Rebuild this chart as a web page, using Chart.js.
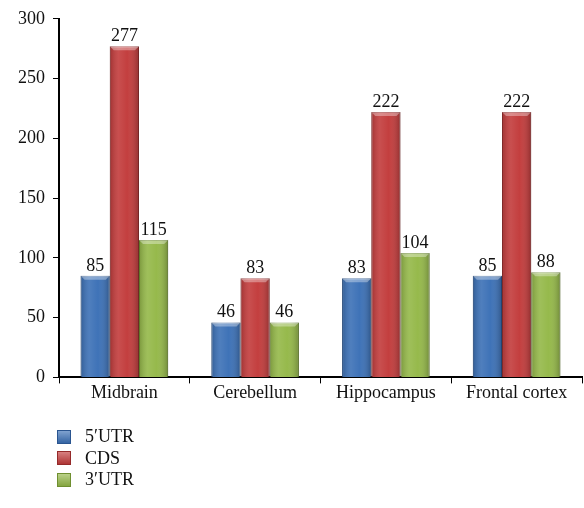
<!DOCTYPE html>
<html>
<head>
<meta charset="utf-8">
<script src="https://cdn.jsdelivr.net/npm/chart.js@4.4.1/dist/chart.umd.min.js"></script>
<style>
  html, body { margin: 0; padding: 0; background: #fff; }
  #wrap { position: relative; width: 584px; height: 508px; }
  #legend { position: absolute; left: 57px; top: 426px; font-family: "Liberation Serif", "DejaVu Serif", serif; font-size: 18px; color: #111; }
  #legend .row { display: flex; align-items: center; height: 21.5px; }
  #legend .sw { width: 14px; height: 14px; margin-right: 14px; box-sizing: border-box; }
</style>
</head>
<body>
<div id="wrap">
  <canvas id="c" width="584" height="508"></canvas>
  <div id="legend"></div>
</div>
<script>
// données
const regions = ["Midbrain", "Cerebellum", "Hippocampus", "Frontal cortex"];
const utr5 = [85, 46, 83, 85];
const cds = [277, 83, 222, 222];
const utr3 = [115, 46, 104, 88];
const yTicks = [0, 50, 100, 150, 200, 250, 300];

const seriesNames = ["5\u2032UTR", "CDS", "3\u2032UTR"];
const seriesColors = ["#3b70b6", "#c23b3b", "#94b848"];
const seriesEdges = ["#2a5590", "#952a2a", "#6f8f30"];

const FONT = "Liberation Serif";

// relief des barres : dégradé horizontal + biseau en haut
const bevelPlugin = {
    id: "bevel",
    afterDatasetsDraw(chart) {
        const ctx = chart.ctx;
        chart.data.datasets.forEach((ds, di) => {
            chart.getDatasetMeta(di).data.forEach(bar => {
                const left = bar.x - bar.width / 2;
                const top = bar.y;
                const h = bar.base - bar.y;
                const g = ctx.createLinearGradient(left, 0, left + bar.width, 0);
                g.addColorStop(0, "rgba(0,0,0,0.18)");
                g.addColorStop(0.3, "rgba(255,255,255,0.10)");
                g.addColorStop(0.6, "rgba(255,255,255,0.02)");
                g.addColorStop(1, "rgba(0,0,0,0.25)");
                ctx.save();
                ctx.fillStyle = g;
                ctx.fillRect(left, top, bar.width, h);
                // biseau
                ctx.fillStyle = "rgba(255,255,255,0.35)";
                ctx.beginPath();
                ctx.moveTo(left, top);
                ctx.lineTo(left + bar.width, top);
                ctx.lineTo(left + bar.width - 4, top + 4);
                ctx.lineTo(left + 4, top + 4);
                ctx.closePath();
                ctx.fill();
                ctx.restore();
            });
        });
    }
};

// valeurs au-dessus des barres
const valueLabels = {
    id: "valueLabels",
    afterDatasetsDraw(chart) {
        const ctx = chart.ctx;
        ctx.save();
        ctx.font = "18px '" + FONT + "'";
        ctx.fillStyle = "#111";
        ctx.textAlign = "center";
        ctx.textBaseline = "bottom";
        chart.data.datasets.forEach((ds, di) => {
            chart.getDatasetMeta(di).data.forEach((bar, i) => {
                ctx.fillText(String(ds.data[i]), bar.x, bar.y - 1);
            });
        });
        ctx.restore();
    }
};

const datasets = [utr5, cds, utr3].map((d, i) => ({
    label: seriesNames[i],
    data: d,
    backgroundColor: seriesColors[i],
    borderColor: seriesEdges[i],
    borderWidth: 1,
    barPercentage: 1.0,
    categoryPercentage: 0.67,
}));

new Chart(document.getElementById("c"), {
    type: "bar",
    data: { labels: regions, datasets: datasets },
    options: {
        responsive: false,
        animation: false,
        devicePixelRatio: 1,
        layout: { padding: { top: 15, right: 2, left: 10, bottom: 105 } },
        plugins: {
            legend: { display: false },
            tooltip: { enabled: false },
        },
        scales: {
            x: {
                grid: { drawOnChartArea: false, drawTicks: true, tickLength: 6, color: "#000", offset: true },
                border: { color: "#000", width: 2 },
                ticks: { color: "#111", font: { family: FONT, size: 18 }, padding: -1, maxRotation: 0 },
            },
            y: {
                min: 0,
                max: 300,
                afterBuildTicks: (axis) => { axis.ticks = yTicks.map(v => ({ value: v })); },
                grid: { drawOnChartArea: false, drawTicks: true, tickLength: 6, color: "#000" },
                border: { color: "#000", width: 2 },
                ticks: { color: "#111", font: { family: FONT, size: 18 }, padding: 8 },
            }
        }
    },
    plugins: [bevelPlugin, valueLabels]
});

// légende verticale en bas à gauche
const legendEl = document.getElementById("legend");
seriesNames.forEach((name, i) => {
    const row = document.createElement("div");
    row.className = "row";
    const sw = document.createElement("span");
    sw.className = "sw";
    sw.style.background = "linear-gradient(to bottom, rgba(255,255,255,0.35), rgba(0,0,0,0.1)), " + seriesColors[i];
    sw.style.border = "1px solid " + seriesEdges[i];
    const txt = document.createElement("span");
    txt.textContent = name;
    row.appendChild(sw);
    row.appendChild(txt);
    legendEl.appendChild(row);
});
</script>
</body>
</html>
